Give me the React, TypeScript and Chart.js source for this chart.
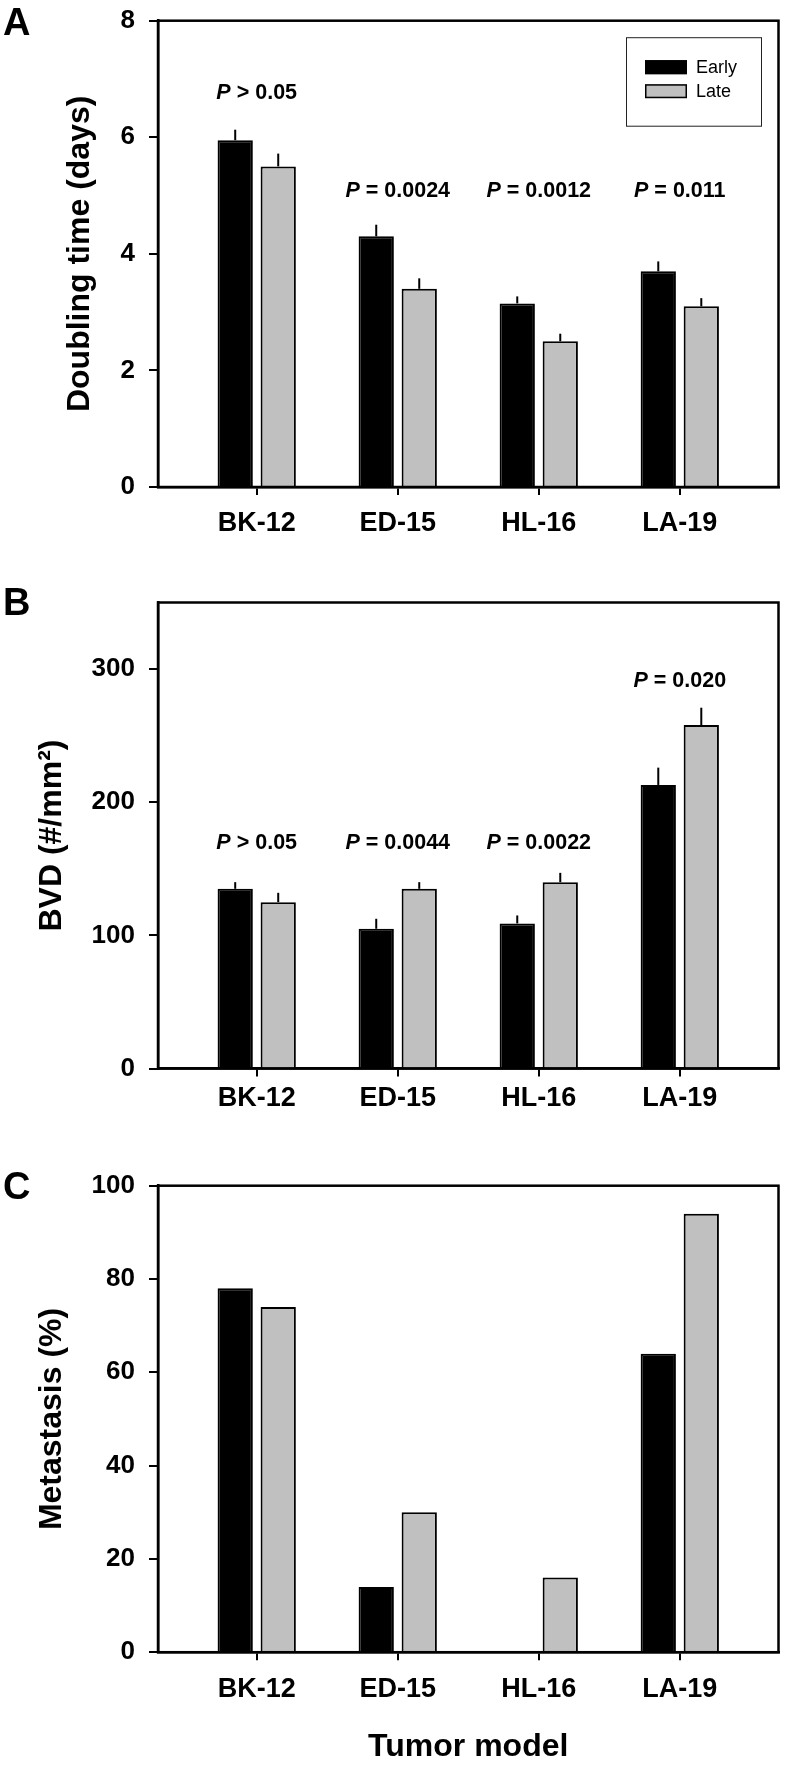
import React, { useEffect, useRef } from 'react';
import { Chart, registerables } from 'chart.js';

Chart.register(...registerables);

const FONT = "'Liberation Sans', Arial, Helvetica, sans-serif";

// ---------- data ----------
const categories = ['BK-12', 'ED-15', 'HL-16', 'LA-19'];
const seriesLabels = ['Early', 'Late'];

// Panel A: doubling time (days)
const doublingEarly = [5.95, 4.3, 3.15, 3.7];
const doublingEarlyErr = [0.18, 0.2, 0.12, 0.17];
const doublingLate = [5.5, 3.4, 2.5, 3.1];
const doublingLateErr = [0.22, 0.18, 0.13, 0.14];
const doublingPText = ['> 0.05', '= 0.0024', '= 0.0012', '= 0.011'];
const doublingPY = [6.75, 5.08, 5.08, 5.08];
const doublingTicks = [0, 2, 4, 6, 8];

// Panel B: BVD (#/mm2)
const bvdEarly = [135, 105, 109, 213];
const bvdEarlyErr = [5, 7.5, 6, 13];
const bvdLate = [125, 135, 140, 258];
const bvdLateErr = [7, 5, 7, 13];
const bvdPText = ['> 0.05', '= 0.0044', '= 0.0022', '= 0.020'];
const bvdPY = [169, 169, 169, 291];
const bvdTicks = [0, 100, 200, 300];

// Panel C: metastasis (%)
const metEarly = [78, 14, 0, 64];
const metLate = [74, 30, 16, 94];
const metTicks = [0, 20, 40, 60, 80, 100];

type Spec = {
  letter: string;
  letterTop: number;
  top: number;
  height: number;
  padTop: number;
  xAxisHeight: number;
  yMax: number;
  yTicks: number[];
  yTitle: string;
  yTitlePad: number;
  xTickPad: number;
  xTitle?: string;
  values: number[][];
  errors?: number[][];
  pText?: string[];
  pY?: number[];
  legend?: boolean;
};

const specs: Spec[] = [
  {
    letter: 'A', letterTop: 3, top: 0, height: 545, padTop: 20.7, xAxisHeight: 58,
    yMax: 8, yTicks: doublingTicks, yTitle: 'Doubling time (days)', yTitlePad: 61, xTickPad: 12,
    values: [doublingEarly, doublingLate], errors: [doublingEarlyErr, doublingLateErr],
    pText: doublingPText, pY: doublingPY, legend: true,
  },
  {
    letter: 'B', letterTop: 583, top: 545, height: 575, padTop: 57.5, xAxisHeight: 51.4,
    yMax: 350, yTicks: bvdTicks, yTitle: 'BVD (#/mm\u00B2)', yTitlePad: 33, xTickPad: 6,
    values: [bvdEarly, bvdLate], errors: [bvdEarlyErr, bvdLateErr],
    pText: bvdPText, pY: bvdPY,
  },
  {
    letter: 'C', letterTop: 1167, top: 1120, height: 645, padTop: 65.7, xAxisHeight: 112.8,
    yMax: 100, yTicks: metTicks, yTitle: 'Metastasis (%)', yTitlePad: 33, xTickPad: 13,
    xTitle: 'Tumor model',
    values: [metEarly, metLate],
  },
];

const fillColors = ['#000000', '#c0c0c0'];

function buildChart(canvas: HTMLCanvasElement, spec: Spec) {
  const errorPlugin = {
    id: 'errorBars',
    afterDatasetsDraw(chart: any) {
      if (!spec.errors) return;
      const ctx = chart.ctx;
      const y = chart.scales.y;
      ctx.save();
      ctx.strokeStyle = '#000';
      ctx.lineWidth = 2;
      spec.errors.forEach((errs, di) => {
        const meta = chart.getDatasetMeta(di);
        const vals = spec.values[di];
        meta.data.forEach((bar: any, i: number) => {
          const y0 = y.getPixelForValue(vals[i]);
          const y1 = y.getPixelForValue(vals[i] + errs[i]);
          ctx.beginPath();
          ctx.moveTo(bar.x, y0);
          ctx.lineTo(bar.x, y1);
          ctx.stroke();
        });
      });
      ctx.restore();
    },
  };

  const framePlugin = {
    id: 'frame',
    afterDatasetsDraw(chart: any) {
      const { left, right, top, bottom } = chart.chartArea;
      const ctx = chart.ctx;
      ctx.save();
      ctx.strokeStyle = '#000';
      ctx.lineWidth = 2.5;
      ctx.lineJoin = 'miter';
      ctx.strokeRect(left, top, right - left, bottom - top);
      ctx.restore();
    },
  };

  const pPlugin = {
    id: 'pLabels',
    afterDatasetsDraw(chart: any) {
      if (!spec.pText || !spec.pY) return;
      const ctx = chart.ctx;
      const x = chart.scales.x;
      const y = chart.scales.y;
      ctx.save();
      ctx.fillStyle = '#000';
      ctx.textBaseline = 'middle';
      ctx.textAlign = 'left';
      spec.pText.forEach((t, i) => {
        const cx = x.getPixelForValue(i);
        const cy = y.getPixelForValue(spec.pY![i]);
        const italic = `italic bold 21.5px ${FONT}`;
        const bold = `bold 21.5px ${FONT}`;
        const rest = ' ' + t;
        ctx.font = italic;
        const w1 = ctx.measureText('P').width;
        ctx.font = bold;
        const w2 = ctx.measureText(rest).width;
        const sx = cx - (w1 + w2) / 2;
        ctx.font = italic;
        ctx.fillText('P', sx, cy);
        ctx.font = bold;
        ctx.fillText(rest, sx + w1, cy);
      });
      ctx.restore();
    },
  };

  const legendPlugin = {
    id: 'boxLegend',
    afterDraw(chart: any) {
      if (!spec.legend) return;
      const ctx = chart.ctx;
      const { right, top } = chart.chartArea;
      const bx = right - 152.5;
      const by = top + 16.5;
      ctx.save();
      ctx.strokeStyle = '#222';
      ctx.lineWidth = 1;
      ctx.strokeRect(bx + 0.5, by + 0.5, 135, 88.5);
      chart.data.datasets.forEach((ds: any, i: number) => {
        const sy = by + 23 + i * 24;
        ctx.fillStyle = ds.backgroundColor;
        ctx.fillRect(bx + 19, sy, 42, 14);
        ctx.strokeStyle = '#000';
        ctx.lineWidth = 1.5;
        ctx.strokeRect(bx + 19.75, sy + 0.75, 40.5, 12.5);
        ctx.fillStyle = '#000';
        ctx.font = `18px ${FONT}`;
        ctx.textBaseline = 'middle';
        ctx.textAlign = 'left';
        ctx.fillText(ds.label, bx + 70, sy + 7.5);
      });
      ctx.restore();
    },
  };

  return new Chart(canvas, {
    type: 'bar',
    data: {
      datasets: spec.values.map((vals, di) => ({
        label: seriesLabels[di],
        data: vals.map((v, i) => ({ x: i, y: v })),
        backgroundColor: fillColors[di],
        borderColor: '#000000',
        borderWidth: 2,
        borderSkipped: 'start',
        barPercentage: 0.82,
        categoryPercentage: 0.61,
      })),
    },
    options: {
      responsive: false,
      animation: false,
      devicePixelRatio: 1,
      layout: { padding: { top: spec.padTop, right: 6.5, left: 0, bottom: 0 } },
      plugins: {
        legend: { display: false },
        tooltip: { enabled: false },
        title: { display: false },
      },
      scales: {
        x: {
          type: 'linear',
          min: -0.7,
          max: 3.7,
          offset: false,
          afterBuildTicks: (s: any) => {
            s.ticks = categories.map((_, i) => ({ value: i }));
          },
          afterFit: (s: any) => {
            s.height = spec.xAxisHeight;
            s.paddingLeft = 0;
            s.paddingRight = 0;
          },
          ticks: {
            color: '#000',
            autoSkip: false,
            maxRotation: 0,
            padding: spec.xTickPad,
            font: { family: FONT, size: 27, weight: 'bold', lineHeight: 1.2 },
            callback: (v: any) => categories[Number(v)] ?? '',
          },
          grid: {
            display: true,
            offset: false,
            drawOnChartArea: false,
            drawTicks: true,
            tickLength: 8,
            color: '#000',
            lineWidth: 2,
          },
          border: { display: true, color: '#000', width: 2.5 },
          title: spec.xTitle
            ? {
                display: true,
                text: spec.xTitle,
                color: '#000',
                font: { family: FONT, size: 32, weight: 'bold', lineHeight: 1 },
                padding: { top: 0, bottom: 2 },
              }
            : { display: false },
        },
        y: {
          min: 0,
          max: spec.yMax,
          afterBuildTicks: (s: any) => {
            s.ticks = spec.yTicks.map((v) => ({ value: v }));
          },
          afterFit: (s: any) => {
            s.width = 158;
            s.paddingTop = 0;
            s.paddingBottom = 0;
          },
          ticks: {
            color: '#000',
            padding: 14,
            font: { family: FONT, size: 26, weight: 'bold' },
          },
          grid: {
            display: true,
            drawOnChartArea: false,
            drawTicks: true,
            tickLength: 9,
            color: '#000',
            lineWidth: 2,
          },
          border: { display: true, color: '#000', width: 2.5 },
          title: {
            display: true,
            text: spec.yTitle,
            color: '#000',
            font: { family: FONT, size: 32, weight: 'bold', lineHeight: 1.2 },
            padding: { top: spec.yTitlePad, bottom: 0 },
          },
        },
      },
    } as any,
    plugins: [errorPlugin, pPlugin, framePlugin, legendPlugin],
  });
}

export default function App() {
  const refs = [useRef<HTMLCanvasElement>(null), useRef<HTMLCanvasElement>(null), useRef<HTMLCanvasElement>(null)];

  useEffect(() => {
    const charts = specs.map((s, i) => buildChart(refs[i].current!, s));
    return () => charts.forEach((c) => c.destroy());
  }, []);

  return (
    <div
      style={{
        position: 'absolute',
        left: 0,
        top: 0,
        width: 785,
        height: 1765,
        background: '#fff',
        overflow: 'hidden',
      }}
    >
      {specs.map((s, i) => (
        <React.Fragment key={s.letter}>
          <canvas
            ref={refs[i]}
            width={785}
            height={s.height}
            style={{ position: 'absolute', left: 0, top: s.top, width: 785, height: s.height }}
          />
          <div
            style={{
              position: 'absolute',
              left: 3,
              top: s.letterTop,
              fontFamily: FONT,
              fontWeight: 'bold',
              fontSize: 38,
              lineHeight: 1,
              color: '#000',
            }}
          >
            {s.letter}
          </div>
        </React.Fragment>
      ))}
    </div>
  );
}
